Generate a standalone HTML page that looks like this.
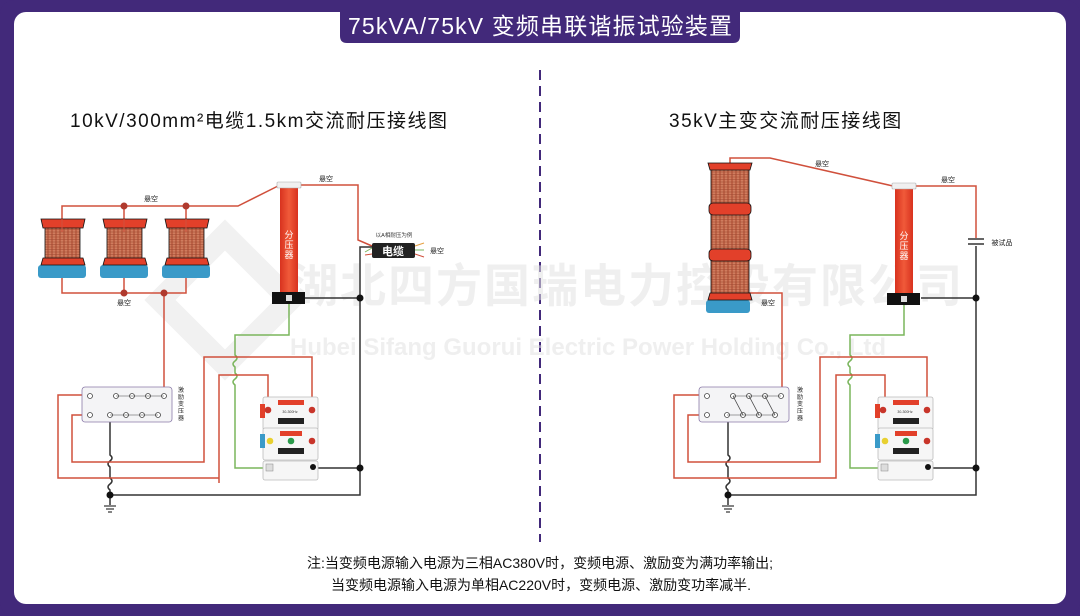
<!DOCTYPE html>
<html><head><meta charset="utf-8"><style>
html,body{margin:0;padding:0;background:#42297a;}
svg{display:block;}
text{font-family:"Liberation Sans","Noto Sans CJK SC",sans-serif;}
</style></head><body>
<svg width="1080" height="616" viewBox="0 0 1080 616" xmlns="http://www.w3.org/2000/svg">
<defs>
<linearGradient id="coil" x1="0" x2="1"><stop offset="0" stop-color="#b5543a"/><stop offset="0.5" stop-color="#d98a6a"/><stop offset="1" stop-color="#b5543a"/></linearGradient>
<linearGradient id="col" x1="0" x2="1"><stop offset="0" stop-color="#d8321e"/><stop offset="0.5" stop-color="#f05a3a"/><stop offset="1" stop-color="#d8321e"/></linearGradient>
<pattern id="wind" width="4" height="2.5" patternUnits="userSpaceOnUse"><rect width="4" height="2.5" fill="url(#coil)"/><line x1="0" y1="2" x2="4" y2="2" stroke="#9a4630" stroke-width="0.5"/></pattern>
</defs>
<rect x="0" y="0" width="1080" height="616" rx="14" fill="#42297a"/>
<rect x="14" y="12" width="1052" height="592" rx="12" fill="#ffffff"/>
<path d="M340 8 H740 V36 Q740 43 733 43 H347 Q340 43 340 36 Z" fill="#42297a"/>
<text x="540" y="34" font-size="23" fill="#fff" text-anchor="middle" textLength="384" lengthAdjust="spacing">75kVA/75kV 变频串联谐振试验装置</text>
<line x1="540" y1="70" x2="540" y2="542" stroke="#42297a" stroke-width="2" stroke-dasharray="10,6"/>
<text x="70" y="127" font-size="19" fill="#111" letter-spacing="1.5">10kV/300mm²电缆1.5km交流耐压接线图</text>
<text x="669" y="127" font-size="19" fill="#111" letter-spacing="1.5">35kV主变交流耐压接线图</text>
<g opacity="0.55">
<polygon points="160,300 225,235 290,300 225,365" fill="none" stroke="#e6e6e6" stroke-width="22"/>
<text x="292" y="302" font-size="46" font-weight="bold" fill="#e3e3e3" letter-spacing="2">湖北四方国瑞电力控股有限公司</text>
<text x="290" y="355" font-size="24" font-weight="bold" fill="#e3e3e3">Hubei Sifang Guorui Electric Power Holding Co., Ltd</text>
</g>

<g fill="none" stroke-width="1.5">
<polyline points="62,228 62,206 238,206 278,186" stroke="#d0503c"/>
<line x1="124" y1="206" x2="124" y2="228" stroke="#d0503c"/>
<line x1="186" y1="206" x2="186" y2="228" stroke="#d0503c"/>
<polyline points="62,258 62,293 186,293 186,258" stroke="#d0503c"/>
<line x1="124" y1="293" x2="124" y2="258" stroke="#d0503c"/>
<polyline points="164,293 164,392" stroke="#d0503c"/>
<polyline points="300,185 358,185 358,240 372,246" stroke="#d0503c"/>
<polyline points="305,298 360,298 360,495 110,495" stroke="#333"/>
<line x1="314" y1="468" x2="360" y2="468" stroke="#333"/>
<polyline points="360,298 360,247 372,247" stroke="#333"/>
<path d="M110,418 V455 q4,3 0,6 q-4,3 0,6 V478 q4,3 0,6 q-4,3 0,6 V505" stroke="#333"/>
<path d="M289,304 V335 H235 V355 q4,3 0,6 q-4,3 0,6 V373 q4,3 0,6 q-4,3 0,6 V468 H266" stroke="#7ab55c"/>
<polyline points="86,395 58,395 58,478 219,478 219,483 219,375 268,375 268,408" stroke="#d0503c"/>
<polyline points="86,415 72,415 72,462 204,462 204,357 312,357 312,408" stroke="#d0503c"/>
</g>
<g stroke="#333" stroke-width="1.2"><line x1="104" y1="506" x2="116" y2="506"/><line x1="106" y1="509" x2="114" y2="509"/><line x1="108" y1="512" x2="112" y2="512"/></g>
<g fill="#b03a2e"><circle cx="124" cy="206" r="3.5"/><circle cx="186" cy="206" r="3.5"/><circle cx="124" cy="293" r="3.5"/><circle cx="164" cy="293" r="3.5"/></g>
<g fill="#111"><circle cx="360" cy="298" r="3.5"/><circle cx="360" cy="468" r="3.5"/><circle cx="110" cy="495" r="3.5"/></g>
<g id="coilL">
<rect x="38" y="265" width="48" height="13" rx="3" fill="#3a9ac8"/>
<rect x="45" y="226" width="35" height="34" fill="url(#wind)" stroke="#111" stroke-width="0.8"/>
<path d="M41,219 H85 L83,228 H43 Z" fill="#e2402a" stroke="#111" stroke-width="0.8"/>
<path d="M43,258 H83 L85,265 H41 Z" fill="#e2402a" stroke="#111" stroke-width="0.8"/>
</g>
<use href="#coilL" x="62"/><use href="#coilL" x="124"/>
<g stroke="#d0503c" stroke-width="1"><line x1="62" y1="219" x2="62" y2="232"/><line x1="124" y1="219" x2="124" y2="232"/><line x1="186" y1="219" x2="186" y2="232"/></g>
<g id="divL">
<rect x="280" y="188" width="18" height="105" fill="url(#col)"/>
<rect x="277" y="182" width="24" height="6" rx="1" fill="#f0f0f0" stroke="#aaa" stroke-width="0.6"/>
<rect x="272" y="292" width="33" height="12" fill="#111"/>
<rect x="286" y="295" width="6" height="6" fill="#ddd"/>
<text x="289" y="238" font-size="9" fill="#fff" text-anchor="middle">分</text>
<text x="289" y="248" font-size="9" fill="#fff" text-anchor="middle">压</text>
<text x="289" y="258" font-size="9" fill="#fff" text-anchor="middle">器</text>
</g>
<g stroke-width="1"><line x1="365" y1="252" x2="372" y2="248" stroke="#7ab55c"/><line x1="365" y1="255" x2="372" y2="254" stroke="#d0503c"/><line x1="415" y1="246" x2="424" y2="243" stroke="#e6a040"/><line x1="415" y1="250" x2="424" y2="250" stroke="#7ab55c"/><line x1="415" y1="254" x2="424" y2="257" stroke="#d0503c"/></g>
<rect x="372" y="243" width="43" height="15" rx="2" fill="#222"/>
<text x="393" y="255" font-size="11" fill="#fff" text-anchor="middle" font-weight="bold">电缆</text>
<text x="394" y="237" font-size="5.5" fill="#333" text-anchor="middle">以A相耐压为例</text>
<g font-size="7" fill="#222" text-anchor="middle">
<text x="151" y="201">悬空</text><text x="124" y="305">悬空</text><text x="326" y="181">悬空</text><text x="437" y="253">悬空</text>
</g>
<g id="excL">
<rect x="82" y="387" width="90" height="35" rx="3" fill="#f4f4f6" stroke="#8a7aa8" stroke-width="0.8"/>
<g fill="#fff" stroke="#444" stroke-width="0.8">
<circle cx="90" cy="396" r="2.5"/><circle cx="116" cy="396" r="2.5"/><circle cx="132" cy="396" r="2.5"/><circle cx="148" cy="396" r="2.5"/><circle cx="164" cy="396" r="2.5"/>
<circle cx="90" cy="415" r="2.5"/><circle cx="110" cy="415" r="2.5"/><circle cx="126" cy="415" r="2.5"/><circle cx="142" cy="415" r="2.5"/><circle cx="158" cy="415" r="2.5"/>
</g>
<line x1="116" y1="396" x2="164" y2="396" stroke="#444" stroke-width="0.6"/>
<line x1="110" y1="415" x2="158" y2="415" stroke="#444" stroke-width="0.6"/>
</g>
<g font-size="6" fill="#222" text-anchor="middle"><text x="181" y="392">激</text><text x="181" y="399">励</text><text x="181" y="406">变</text><text x="181" y="413">压</text><text x="181" y="420">器</text></g>
<g id="pwrL">
<rect x="263" y="397" width="55" height="33" rx="2" fill="#f6f6f6" stroke="#bbb" stroke-width="0.8"/>
<rect x="260" y="404" width="5" height="14" fill="#e2402a"/>
<rect x="278" y="400" width="26" height="5" fill="#e2402a"/>
<rect x="278" y="418" width="26" height="6" fill="#222"/>
<text x="290" y="413" font-size="3.5" fill="#333" text-anchor="middle">30-300Hz</text>
<circle cx="268" cy="410" r="3.3" fill="#c8352a"/><circle cx="312" cy="410" r="3.3" fill="#c8352a"/>
<rect x="263" y="428" width="55" height="32" rx="2" fill="#f6f6f6" stroke="#bbb" stroke-width="0.8"/>
<rect x="260" y="434" width="5" height="14" fill="#3a9ac8"/>
<rect x="280" y="431" width="22" height="5" fill="#e2402a"/>
<rect x="278" y="448" width="26" height="6" fill="#222"/>
<circle cx="270" cy="441" r="3.3" fill="#e8d030"/><circle cx="291" cy="441" r="3.3" fill="#2a9a4a"/><circle cx="312" cy="441" r="3.3" fill="#c8352a"/>
<rect x="263" y="461" width="55" height="19" rx="2" fill="#f6f6f6" stroke="#bbb" stroke-width="0.8"/>
<rect x="266" y="464" width="7" height="7" fill="#ddd" stroke="#888" stroke-width="0.5"/>
<circle cx="313" cy="467" r="3" fill="#111"/>
</g>

<g fill="none" stroke-width="1.5">
<polyline points="730,166 730,158 770,158 893,186" stroke="#d0503c"/>
<polyline points="915,186 976,186 976,238" stroke="#d0503c"/>
<polyline points="733,293 782,293 782,392" stroke="#d0503c"/>
<polyline points="976,246 976,495 728,495" stroke="#333"/>
<line x1="921" y1="298" x2="976" y2="298" stroke="#333"/>
<line x1="929" y1="468" x2="976" y2="468" stroke="#333"/>
<path d="M728,418 V455 q4,3 0,6 q-4,3 0,6 V478 q4,3 0,6 q-4,3 0,6 V505" stroke="#333"/>
<path d="M904,305 V335 H850 V355 q4,3 0,6 q-4,3 0,6 V373 q4,3 0,6 q-4,3 0,6 V468 H881" stroke="#7ab55c"/>
<polyline points="704,395 674,395 674,478 836,478 836,375 885,375 885,408" stroke="#d0503c"/>
<polyline points="704,415 688,415 688,462 820,462 820,357 927,357 927,408" stroke="#d0503c"/>
</g>
<g stroke="#333" stroke-width="1.5"><line x1="968" y1="239" x2="984" y2="239"/><line x1="968" y1="244" x2="984" y2="244"/></g>
<g stroke="#333" stroke-width="1.2"><line x1="722" y1="506" x2="734" y2="506"/><line x1="724" y1="509" x2="732" y2="509"/><line x1="726" y1="512" x2="730" y2="512"/></g>
<g fill="#111"><circle cx="976" cy="298" r="3.5"/><circle cx="976" cy="468" r="3.5"/><circle cx="728" cy="495" r="3.5"/></g>
<rect x="706" y="300" width="44" height="13" rx="3" fill="#3a9ac8"/>
<rect x="711" y="165" width="38" height="132" fill="url(#wind)" stroke="#111" stroke-width="0.8"/>
<g fill="#e2402a" stroke="#111" stroke-width="0.8">
<path d="M708,163 H752 L750,170 H710 Z"/>
<rect x="709" y="203" width="42" height="12" rx="4"/>
<rect x="709" y="249" width="42" height="12" rx="4"/>
<path d="M710,293 H750 L752,300 H708 Z"/>
</g>
<use href="#divL" x="615" y="1"/>
<use href="#excL" x="617"/>
<g stroke="#444" stroke-width="0.8"><line x1="733" y1="396" x2="743" y2="415"/><line x1="749" y1="396" x2="759" y2="415"/><line x1="765" y1="396" x2="775" y2="415"/></g>
<use href="#pwrL" x="615"/>
<g font-size="7" fill="#222" text-anchor="middle">
<text x="822" y="166">悬空</text><text x="948" y="182">悬空</text><text x="768" y="305">悬空</text><text x="1002" y="245">被试品</text>
</g>
<g font-size="6" fill="#222" text-anchor="middle"><text x="800" y="392">激</text><text x="800" y="399">励</text><text x="800" y="406">变</text><text x="800" y="413">压</text><text x="800" y="420">器</text></g>

<text x="540" y="568" font-size="14" fill="#111" text-anchor="middle">注:当变频电源输入电源为三相AC380V时，变频电源、激励变为满功率输出;</text>
<text x="541" y="590" font-size="14" fill="#111" text-anchor="middle">当变频电源输入电源为单相AC220V时，变频电源、激励变功率减半.</text>
</svg>
</body></html>
